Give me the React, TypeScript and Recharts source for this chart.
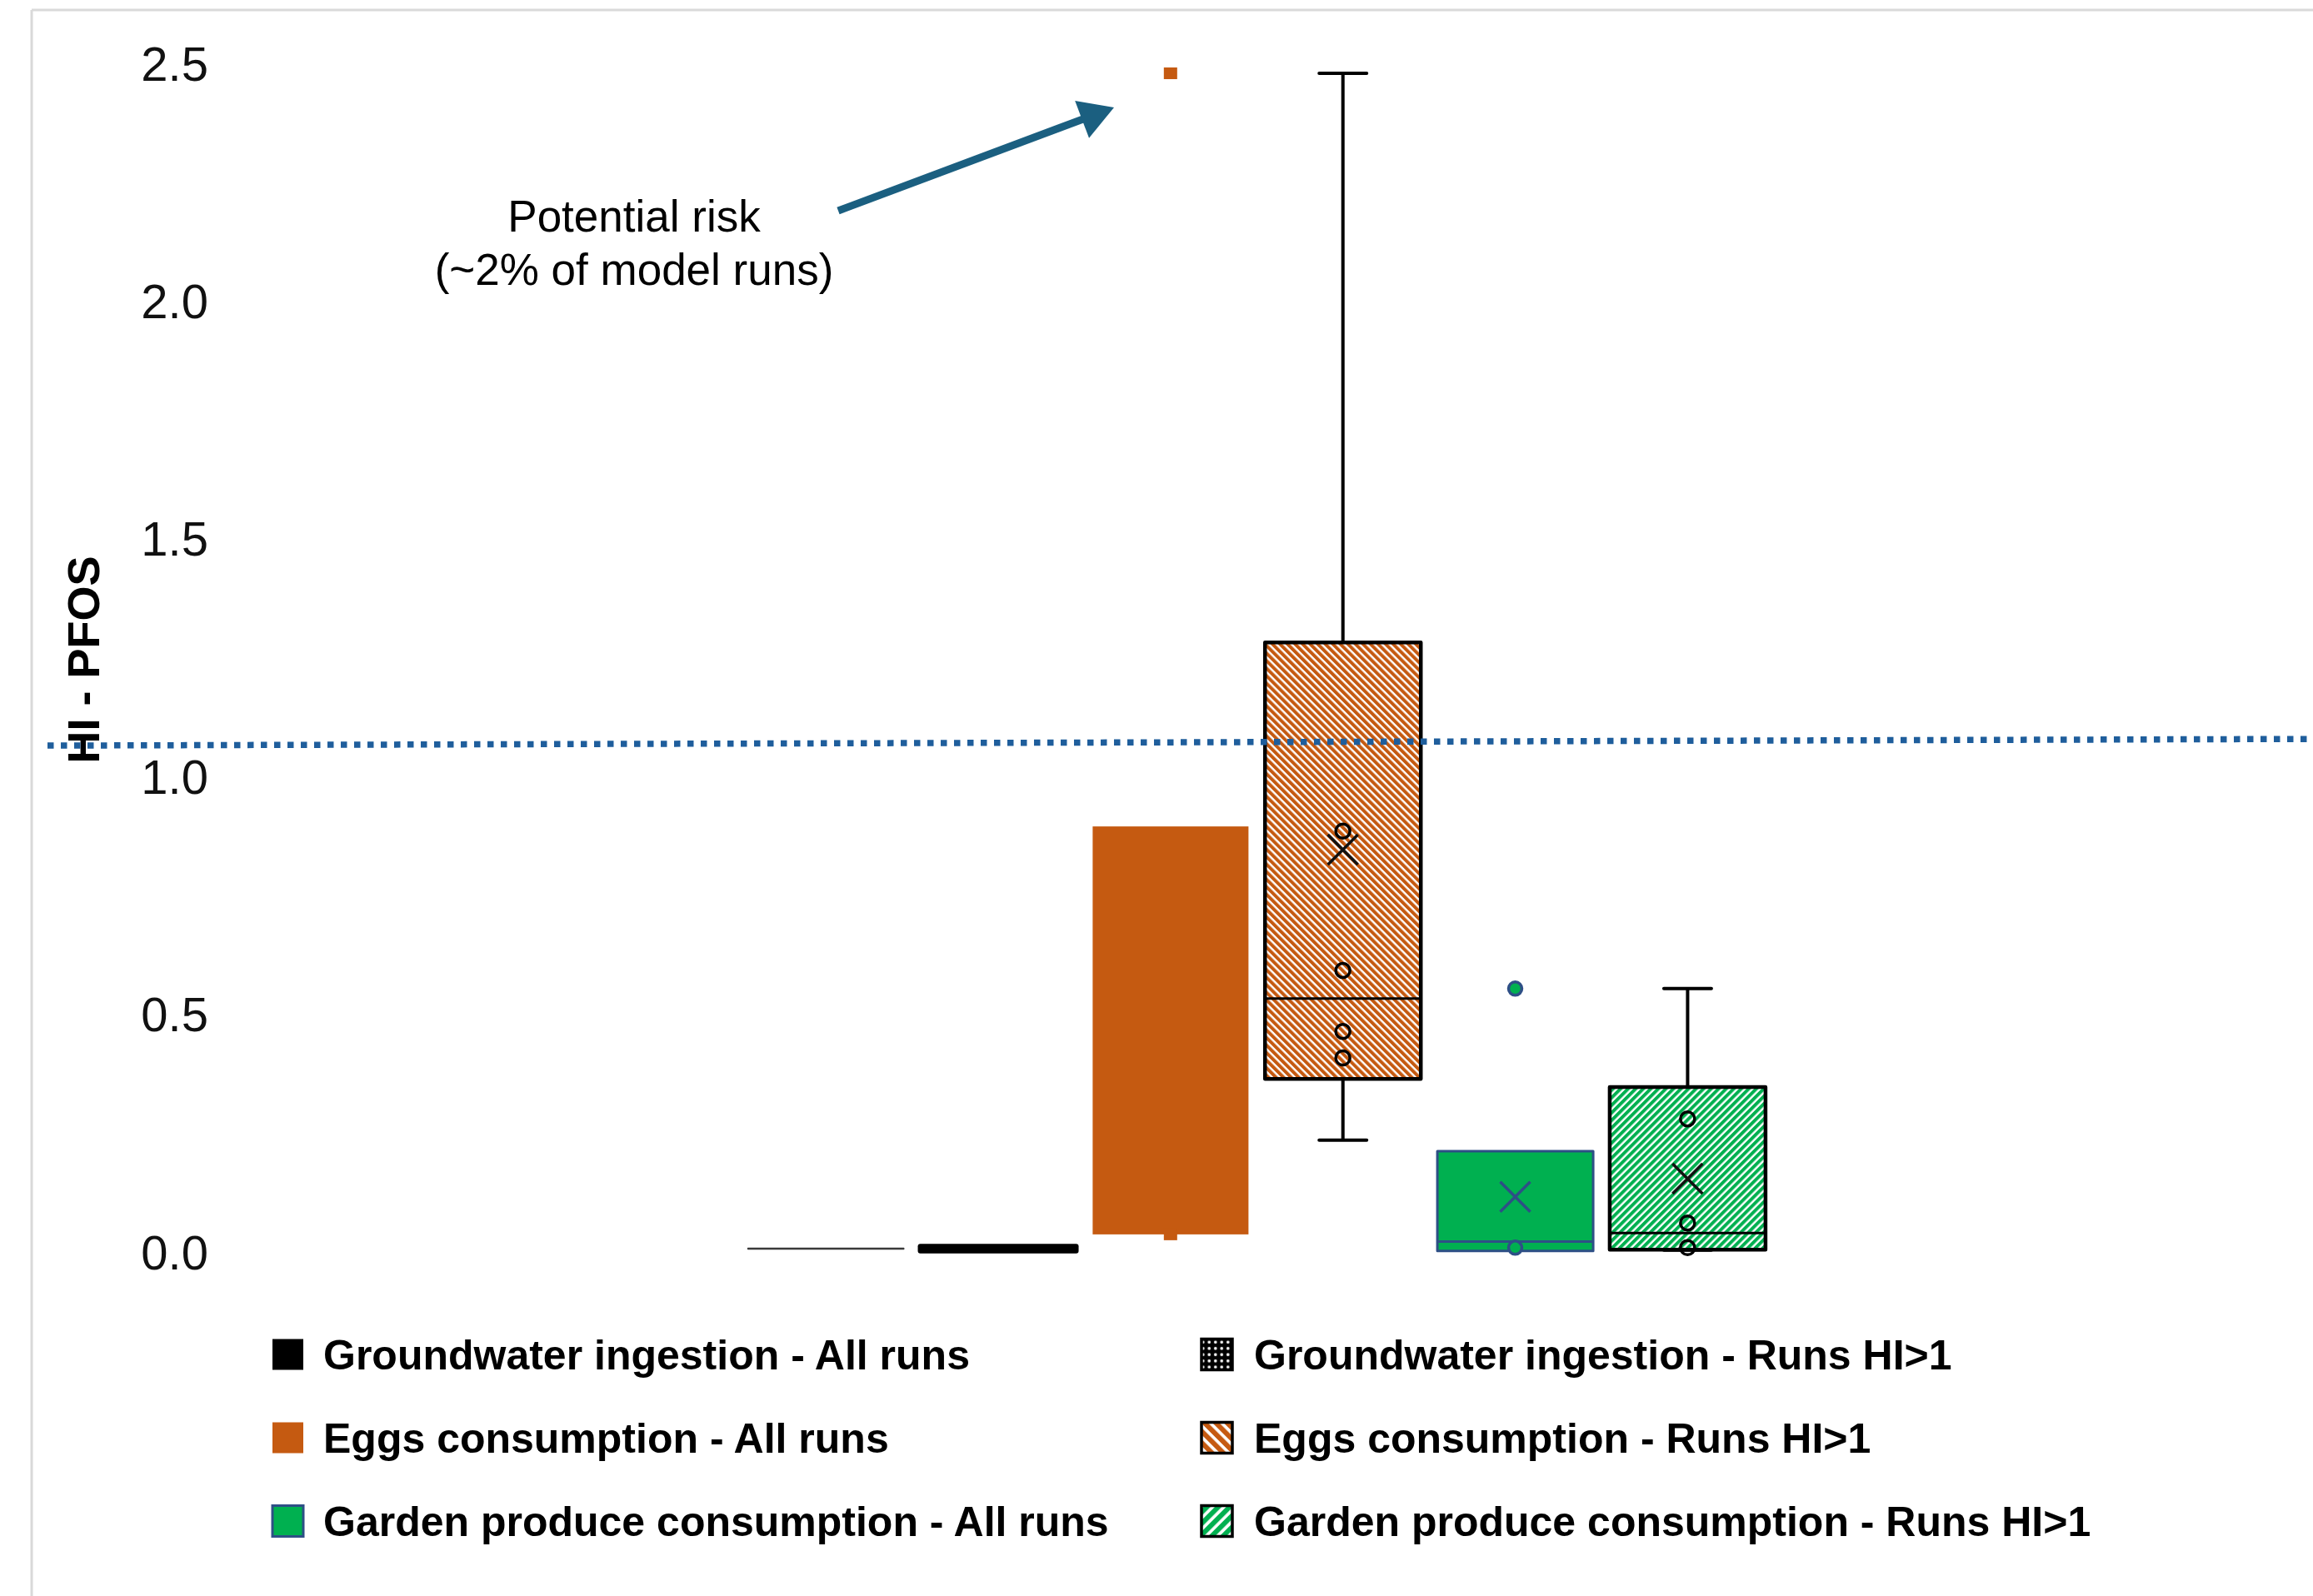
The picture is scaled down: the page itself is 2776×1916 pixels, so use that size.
import React from "react";
import {
  ComposedChart,
  Bar,
  Scatter,
  XAxis,
  YAxis,
  ReferenceLine,
  Legend,
} from "recharts";

// ---- data ----
const categories = [
  "Groundwater ingestion - All runs",
  "Groundwater ingestion - Runs HI>1",
  "Eggs consumption - All runs",
  "Eggs consumption - Runs HI>1",
  "Garden produce consumption - All runs",
  "Garden produce consumption - Runs HI>1",
];

const q1Values = [0.006, 0.002, 0.037, 0.364, 0.002, 0.005];
const q3Values = [0.008, 0.012, 0.895, 1.282, 0.212, 0.347];
const medianValues = [null, null, null, 0.533, 0.022, 0.04];
const meanValues = [null, null, null, 0.846, 0.116, 0.154];
const whiskerLow = [null, null, null, 0.235, null, 0.004];
const whiskerHigh = [null, null, null, 2.479, null, 0.554];

const eggsAllOutliers = [2.479, 0.037];
const eggsHiPoints = [0.885, 0.592, 0.464, 0.408];
const gardenAllOutliers = [0.554, 0.009];
const gardenHiPoints = [0.28, 0.061, 0.009];

// dotted HI line, value at the left and right end
const threshold = [1.065, 1.079];
const yTicks = [0, 0.5, 1, 1.5, 2, 2.5];

// ---- layout / style ----
const W = 2776;
const H = 1916;
const FONT = '"Liberation Sans", Arial, Helvetica, sans-serif';
const X_DOMAIN: [number, number] = [-3.516, 9.629];
const BOX_W = 187;
const CAP_W = 57;

const ORANGE = "#C55A11";
const GREEN = "#00B050";
const NAVY = "#2E4F86";
const ARROW = "#1B5F80";

const rows = categories.map((name, i) => ({
  name,
  pos: i + 1,
  q1: q1Values[i],
  q3: q3Values[i],
  lo: whiskerLow[i],
  hi: whiskerHigh[i],
}));

const toPoints = (vals: (number | null)[]) =>
  vals.flatMap((v, i) => (v == null ? [] : [{ pos: i + 1, v }]));

const medianPoints = toPoints(medianValues);
const meanPoints = toPoints(meanValues);
const eggsAllPts = eggsAllOutliers.map((v) => ({ pos: 3, v }));
const eggsHiPts = eggsHiPoints.map((v) => ({ pos: 4, v }));
const gardenAllPts = gardenAllOutliers.map((v) => ({ pos: 5, v }));
const gardenHiPts = gardenHiPoints.map((v) => ({ pos: 6, v }));

function boxStyle(i: number, p: string) {
  switch (i) {
    case 0:
      return { fill: "#3A3A3A", stroke: "#3A3A3A", sw: 1.5 };
    case 1:
      return { fill: `url(#${p}-gw)`, stroke: "#000", sw: 6 };
    case 2:
      return { fill: ORANGE, stroke: "none", sw: 0 };
    case 3:
      return { fill: `url(#${p}-egg)`, stroke: "#000", sw: 4.5 };
    case 4:
      return { fill: GREEN, stroke: NAVY, sw: 3 };
    default:
      return { fill: `url(#${p}-garden)`, stroke: "#000", sw: 4.5 };
  }
}

function legendStyle(i: number) {
  if (i === 0) return { fill: "#000", stroke: "none", sw: 0 };
  if (i === 1) return { fill: "url(#lg-gw)", stroke: "#000", sw: 3.5 };
  if (i === 3) return { fill: "url(#lg-egg)", stroke: "#000", sw: 3.5 };
  if (i === 5) return { fill: "url(#lg-garden)", stroke: "#000", sw: 3.5 };
  return boxStyle(i, "lg");
}

const medianColor = (pos: number) => (pos === 5 ? NAVY : "#000");
const meanColor = (pos: number) => (pos === 5 ? NAVY : "#111");

function Patterns({ p, s }: { p: string; s: number }) {
  const w = 6.4 * s;
  return (
    <defs>
      <pattern id={`${p}-egg`} width={w} height={w} patternUnits="userSpaceOnUse" patternTransform="rotate(-45)">
        <rect width={w} height={w} fill="#fff" />
        <rect width={w * 0.62} height={w} fill={ORANGE} />
      </pattern>
      <pattern id={`${p}-garden`} width={w} height={w} patternUnits="userSpaceOnUse" patternTransform="rotate(45)">
        <rect width={w} height={w} fill="#fff" />
        <rect width={w * 0.62} height={w} fill={GREEN} />
      </pattern>
      <pattern id={`${p}-gw`} width={5 * s} height={5 * s} patternUnits="userSpaceOnUse">
        <rect width={5 * s} height={5 * s} fill="#000" />
        <circle cx={2.5 * s} cy={2.5 * s} r={1.2 * s} fill="#fff" />
      </pattern>
    </defs>
  );
}

function BoxShape(props: any) {
  const { x, y, width, height, payload } = props;
  if (!Number.isFinite(y) || !Number.isFinite(height)) return <g />;
  const s = boxStyle(payload.pos - 1, "c");
  return (
    <rect
      x={x}
      y={y}
      width={width}
      height={height}
      fill={s.fill}
      stroke={s.stroke}
      strokeWidth={s.sw}
      strokeLinejoin="round"
    />
  );
}

function WhiskerShape(props: any) {
  const { x, y, width, height, payload } = props;
  if (payload.lo == null || !Number.isFinite(y) || !Number.isFinite(height)) return <g />;
  const cx = x + width / 2;
  return (
    <g stroke="#000" strokeWidth={4}>
      <line x1={cx} x2={cx} y1={y} y2={y + height} />
      <line x1={x} x2={x + width} y1={y} y2={y} strokeLinecap="round" />
      <line x1={x} x2={x + width} y1={y + height} y2={y + height} strokeLinecap="round" />
    </g>
  );
}

const MedianShape = (p: any) => (
  <line
    x1={p.cx - BOX_W / 2}
    x2={p.cx + BOX_W / 2}
    y1={p.cy}
    y2={p.cy}
    stroke={medianColor(p.payload.pos)}
    strokeWidth={3}
  />
);

const MeanShape = (p: any) => {
  const r = 18;
  return (
    <path
      d={`M${p.cx - r},${p.cy - r}L${p.cx + r},${p.cy + r}M${p.cx + r},${p.cy - r}L${p.cx - r},${p.cy + r}`}
      stroke={meanColor(p.payload.pos)}
      strokeWidth={3.5}
      fill="none"
    />
  );
};

const SquareShape = (p: any) => (
  <rect x={p.cx - 8} y={p.cy - 7} width={16} height={14} fill={ORANGE} />
);

const RingShape = (p: any) => (
  <circle cx={p.cx} cy={p.cy} r={8.5} fill="none" stroke="#000" strokeWidth={3.5} />
);

const GreenDotShape = (p: any) => (
  <circle cx={p.cx} cy={p.cy} r={8} fill={GREEN} stroke={NAVY} strokeWidth={3.5} />
);

function YTick(props: any) {
  const { y, payload } = props;
  return (
    <text x={250} y={y} dy="0.355em" textAnchor="end" fontSize={58} fontFamily={FONT} fill="#111">
      {Number(payload.value).toFixed(1)}
    </text>
  );
}

const legendOrder = [
  [0, 2, 4],
  [1, 3, 5],
];
const legendCols = [
  { swatchX: 327, textX: 388 },
  { swatchX: 1442, textX: 1505 },
];
const LEGEND_TOP = 1570;
const legendRowY = [56, 156, 256];

function LegendBlock() {
  return (
    <svg width={W} height={300} style={{ display: "block" }}>
      <Patterns p="lg" s={1.5} />
      {legendCols.map((col, c) =>
        legendOrder[c].map((ci, r) => {
          const s = legendStyle(ci);
          const cy = legendRowY[r];
          return (
            <g key={ci}>
              <rect
                x={col.swatchX}
                y={cy - 18.5}
                width={37}
                height={37}
                fill={s.fill}
                stroke={s.stroke}
                strokeWidth={s.sw}
              />
              <text x={col.textX} y={cy + 18} fontSize={50} fontWeight="bold" fontFamily={FONT} fill="#000">
                {categories[ci]}
              </text>
            </g>
          );
        })
      )}
    </svg>
  );
}

// arrow pointing at the top outlier
const arrowTail = { x: 1006, y: 253 };
const arrowTip = { x: 1337, y: 129 };

function Arrow() {
  const dx = arrowTip.x - arrowTail.x;
  const dy = arrowTip.y - arrowTail.y;
  const len = Math.hypot(dx, dy);
  const ux = dx / len;
  const uy = dy / len;
  const headLen = 41;
  const half = 24;
  const bx = arrowTip.x - ux * headLen;
  const by = arrowTip.y - uy * headLen;
  const pts = `${arrowTip.x},${arrowTip.y} ${bx - uy * half},${by + ux * half} ${bx + uy * half},${by - ux * half}`;
  return (
    <g>
      <line x1={arrowTail.x} y1={arrowTail.y} x2={bx + ux * 2} y2={by + uy * 2} stroke={ARROW} strokeWidth={9} />
      <polygon points={pts} fill={ARROW} />
    </g>
  );
}

export default function App() {
  return (
    <div style={{ position: "absolute", left: 0, top: 0, width: W, height: H, background: "#fff" }}>
      <svg width={W} height={H} style={{ position: "absolute", left: 0, top: 0 }} fontFamily={FONT}>
        <line x1={38} y1={12} x2={38} y2={H} stroke="#D9D9D9" strokeWidth={3} />
        <line x1={38} y1={12} x2={W} y2={12} stroke="#D9D9D9" strokeWidth={3} />
        <text
          x={100}
          y={792}
          dy="0.355em"
          transform="rotate(-90, 100, 792)"
          textAnchor="middle"
          fontSize={54}
          fontWeight="bold"
          fill="#000"
        >
          HI - PFOS
        </text>
        <text x={761} y={278} textAnchor="middle" fontSize={53} fill="#000">
          Potential risk
        </text>
        <text x={761} y={342} textAnchor="middle" fontSize={53} fill="#000">
          (~2% of model runs)
        </text>
        <Arrow />
      </svg>
      <div style={{ position: "absolute", left: 0, top: 0 }}>
        <ComposedChart
          width={W}
          height={H}
          data={rows}
          margin={{ top: 76, right: 0, bottom: 413, left: 57 }}
        >
          <Patterns p="c" s={1} />
          <XAxis xAxisId="main" type="number" dataKey="pos" domain={X_DOMAIN} hide />
          <XAxis xAxisId="wh" type="number" dataKey="pos" domain={X_DOMAIN} hide />
          <YAxis
            type="number"
            domain={[0, 2.5]}
            ticks={yTicks}
            mirror
            axisLine={false}
            tickLine={false}
            tick={YTick}
            interval={0}
          />
          <Bar
            xAxisId="wh"
            dataKey={(d: any) => (d.lo == null ? null : [d.lo, d.hi])}
            barSize={CAP_W}
            shape={WhiskerShape}
            isAnimationActive={false}
            legendType="none"
          />
          <Scatter xAxisId="main" data={eggsAllPts} dataKey="v" shape={SquareShape} isAnimationActive={false} legendType="none" />
          <Bar
            xAxisId="main"
            dataKey={(d: any) => [d.q1, d.q3]}
            barSize={BOX_W}
            shape={BoxShape}
            isAnimationActive={false}
            legendType="none"
          />
          <Scatter xAxisId="main" data={medianPoints} dataKey="v" shape={MedianShape} isAnimationActive={false} legendType="none" />
          <Scatter xAxisId="main" data={meanPoints} dataKey="v" shape={MeanShape} isAnimationActive={false} legendType="none" />
          <Scatter xAxisId="main" data={eggsHiPts} dataKey="v" shape={RingShape} isAnimationActive={false} legendType="none" />
          <Scatter xAxisId="main" data={gardenHiPts} dataKey="v" shape={RingShape} isAnimationActive={false} legendType="none" />
          <Scatter xAxisId="main" data={gardenAllPts} dataKey="v" shape={GreenDotShape} isAnimationActive={false} legendType="none" />
          <ReferenceLine
            xAxisId="main"
            segment={[
              { x: X_DOMAIN[0], y: threshold[0] },
              { x: X_DOMAIN[1], y: threshold[1] },
            ]}
            stroke="#1F5E9C"
            strokeWidth={7.5}
            strokeDasharray="7.5 8.5"
            ifOverflow="visible"
          />
          <Legend
            layout="horizontal"
            verticalAlign="middle"
            align="center"
            wrapperStyle={{ position: "absolute", left: 0, top: LEGEND_TOP, width: W, height: 300 }}
            content={() => <LegendBlock />}
          />
        </ComposedChart>
      </div>
    </div>
  );
}
